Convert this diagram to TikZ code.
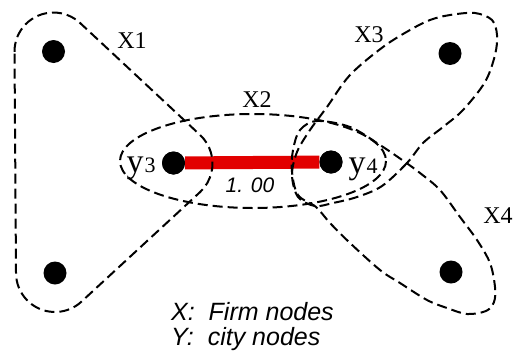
\documentclass[tikz,border=0pt]{standalone}
\usepackage{fontspec}
\setmainfont{Liberation Serif}
\newfontfamily\legfont{Liberation Sans}
\definecolor{linkred}{RGB}{226,0,0}
\begin{document}
\begin{tikzpicture}[x=1pt,y=-1pt,
  dot/.style={circle,fill=black,draw=none,minimum size=23pt,inner sep=0pt},
  hull/.style={draw=black,line width=2pt,dash pattern=on 10pt off 5pt},
  setlabel/.style={anchor=base,inner sep=0pt,font=\fontsize{24}{24}\selectfont},
  legend/.style={anchor=base west,inner sep=0pt,font=\legfont\itshape\fontsize{25}{25}\selectfont},
  weight/.style={anchor=base,inner sep=0pt,font=\legfont\itshape\fontsize{21}{21}\selectfont}]
\useasboundingbox (0,0) rectangle (513,351);
% nodes
\node[dot] (a) at (53.5,51.5) {};
\node[dot] (b) at (55,273) {};
\node[dot] (y3) at (173.5,163) {};
\node[dot] (y4) at (331,162) {};
\node[dot] (c) at (450,53.5) {};
\node[dot] (d) at (451,272) {};
% link
\draw[linkred,line width=13pt] (y3) -- (y4);
\node[dot] at (y3) {};
\node[dot] at (y4) {};
% X1 hull
\draw[hull] (14.5,51.8) arc[start angle=179.6,end angle=313,radius=39]
  -- (200.1,135.0) arc[start angle=313,end angle=407.2,radius=39]
  -- (81.5,301.6) arc[start angle=47.2,end angle=179.6,radius=39] -- cycle;
% X2
\draw[hull] (253,161) ellipse[x radius=133,y radius=47];
% X3
\draw[hull] plot[smooth cycle,tension=0.55] coordinates {
  (423,143) (407,163) (382,186) (357,197) (333,203) (315,206) (298,197)
  (292,175) (297,152) (310,130) (327,107) (350,75) (383,47) (410,30)
  (430,20) (450,15) (475,13) (492,20) (497,35) (495,55) (485,82)
  (463,110) (443,127)};
% X4
\draw[hull] plot[smooth cycle,tension=0.55] coordinates {
  (293,150) (300,130) (317,121) (350,127) (380,145) (405,162) (420,173)
  (440,190) (460,217) (477,240) (490,263) (495,287) (494,302) (486,311)
  (467,314) (447,308) (427,300) (400,283) (380,270) (350,243) (330,223)
  (316,207) (298,195) (292,172)};
% labels
\node[setlabel] (l1) at (132,48) {X1};
\node[setlabel] (l2) at (257,107) {X2};
\node[setlabel] (l3) at (369,42) {X3};
\node[setlabel] (l4) at (498,223) {X4};
\node[anchor=base,inner sep=0pt] (ly3) at (141,172) {\fontsize{34}{34}\selectfont y\kern1pt\fontsize{22}{22}\selectfont 3};
\node[anchor=base,inner sep=0pt] (ly4) at (363,173) {\fontsize{34}{34}\selectfont y\kern1pt\fontsize{22}{22}\selectfont 4};
\node[weight] (w) at (250,192) {1. 00};
\node[legend] (lx) at (171,320) {X:\ \ Firm nodes};
\node[legend] (ly) at (171,345) {Y:\ \ city nodes};
\end{tikzpicture}
\end{document}
